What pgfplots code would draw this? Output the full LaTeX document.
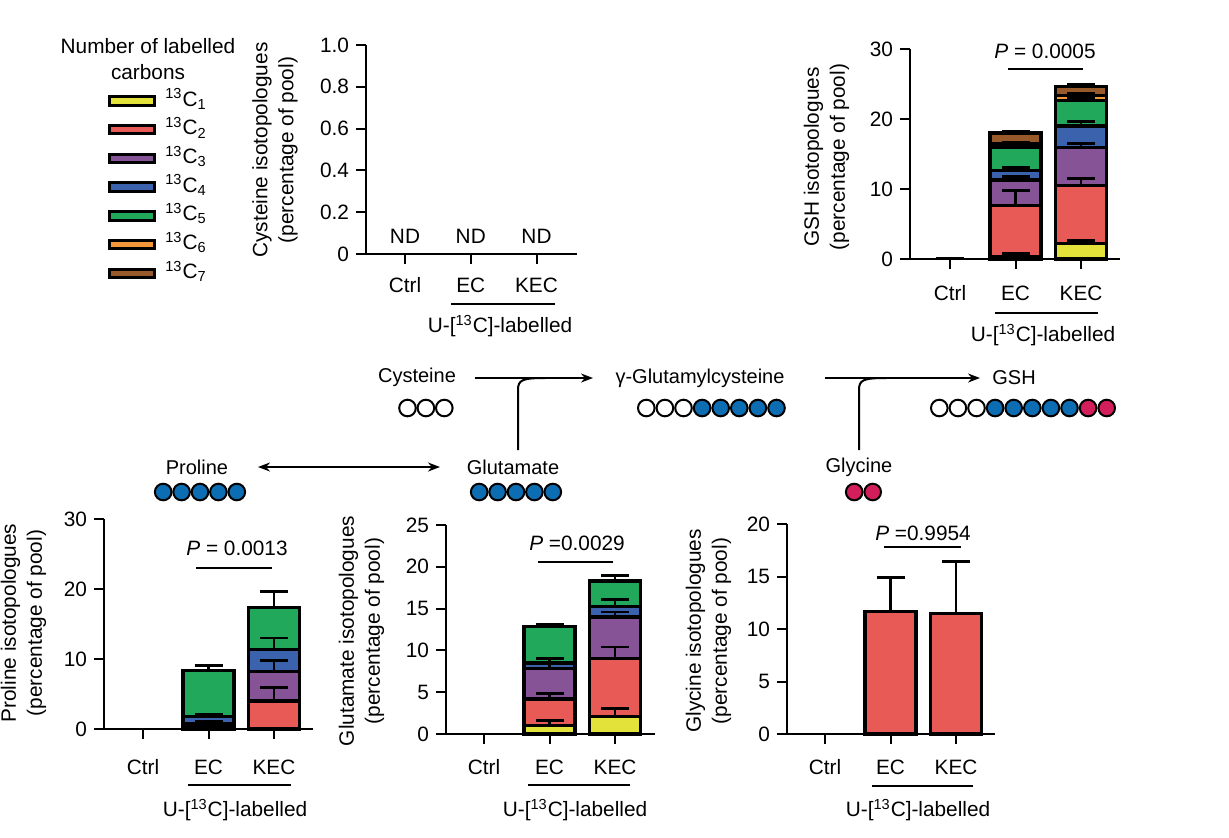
\documentclass[border=0pt]{standalone}
\usepackage{pgfplots}
\pgfplotsset{compat=1.18}
\usepackage{fontspec}
\setmainfont{Liberation Sans}
\usetikzlibrary{arrows.meta}

\definecolor{cone}{HTML}{E3E23B}
\definecolor{ctwo}{HTML}{E85A55}
\definecolor{cthree}{HTML}{875397}
\definecolor{cfour}{HTML}{3B62AD}
\definecolor{cfive}{HTML}{22A85B}
\definecolor{csix}{HTML}{F3973A}
\definecolor{cseven}{HTML}{98592B}
\definecolor{cblue}{HTML}{0D6DB3}
\definecolor{cpink}{HTML}{D21F5C}

\newcommand{\fs}{\fontsize{10.4}{13}\selectfont}
\newcommand{\iso}[1]{\textsuperscript{13}C\textsubscript{#1}}
\newcommand{\ulab}{U-[\textsuperscript{13}C]-labelled}

\pgfplotsset{
  panel/.style={
    scale only axis, anchor=south west, clip=false,
    axis x line*=bottom, axis y line*=left,
    axis line style={line width=1pt},
    every tick/.style={line width=1pt, black},
    tick align=outside, major tick length=5pt,
    xtick={0,1,2}, xticklabels={},
    ymin=0,
    /pgf/number format/assume math mode=true,
    tick label style={font=\fs},
  },
  seg/.style={ybar, bar shift=0pt, bar width=25.5pt, draw=black, line width=1.6pt, fill=#1},
  err/.style={draw=none, mark=none, forget plot,
    error bars/.cd, y dir=plus, y explicit,
    error bar style={draw=black, solid, line width=1.4pt},
    error mark options={draw=black, solid, line width=1.4pt, rotate=90, mark size=7pt}},
}

\begin{document}
\begin{tikzpicture}

% Cysteine (not detected) + legend
\begin{axis}[panel, at={(183pt,-127pt)}, width=105.5pt, height=104.5pt,
  xmin=-0.593, xmax=2.615, ymax=1,
  ytick={0,0.2,0.4,0.6,0.8,1}, yticklabels={0,0.2,0.4,0.6,0.8,1.0},
  legend style={at={(axis description cs:-1.225,0.7816)}, anchor=north west,
    draw=none, fill=none, inner sep=0pt, row sep=4.35pt, font=\fs,
    nodes={inner sep=0pt, text height=7.5pt, text depth=2.5pt}},
  legend cell align=left,
  legend image code/.code={\draw[#1, draw=black, line width=1.5pt] (0pt,-2.1pt) rectangle (22.5pt,2.1pt); \path (27.75pt,0pt);},
]
\addlegendimage{fill=cone}\addlegendentry{\iso{1}}
\addlegendimage{fill=ctwo}\addlegendentry{\iso{2}}
\addlegendimage{fill=cthree}\addlegendentry{\iso{3}}
\addlegendimage{fill=cfour}\addlegendentry{\iso{4}}
\addlegendimage{fill=cfive}\addlegendentry{\iso{5}}
\addlegendimage{fill=csix}\addlegendentry{\iso{6}}
\addlegendimage{fill=cseven}\addlegendentry{\iso{7}}
\draw[line width=1pt] (axis cs:-0.593,0) -- ++(-5pt,0);
\end{axis}

% GSH
\begin{axis}[panel, at={(455pt,-129.5pt)}, width=105pt, height=105pt,
  xmin=-0.61, xmax=2.595, ymax=30, ytick={0,10,20,30}]
\addplot[seg=cseven] coordinates {(1,18.0) (2,24.6)};
\addplot[seg=csix]   coordinates {(1,16.5) (2,23.4)};
\addplot[seg=cfive]  coordinates {(1,16.0) (2,22.6)};
\addplot[seg=cfour]  coordinates {(1,12.7) (2,19.0)};
\addplot[seg=cthree] coordinates {(1,11.3) (2,15.9)};
\addplot[seg=ctwo]   coordinates {(1,7.6) (2,10.5)};
\addplot[seg=cone]   coordinates {(1,0.3) (2,2.2)};
\addplot[err] coordinates {
  (0,0) +- (0,0.1)
  (1,0.3) +- (0,0.5) (1,7.6) +- (0,2.2) (1,11.3) +- (0,0.5) (1,12.7) +- (0,0.4)
  (1,16.0) +- (0,0.3) (1,16.5) +- (0,0.1) (1,18.0) +- (0,0.2)
  (2,2.2) +- (0,0.5) (2,10.5) +- (0,1.0) (2,15.9) +- (0,0.6) (2,19.0) +- (0,0.6)
  (2,22.6) +- (0,0.5) (2,23.4) +- (0,0.3) (2,24.6) +- (0,0.3)
};
\draw[line width=1pt] (axis cs:-0.61,0) -- ++(-5pt,0);
\end{axis}

% Proline
\begin{axis}[panel, at={(52pt,-364.5pt)}, width=104.5pt, height=105pt,
  xmin=-0.595, xmax=2.595, ymax=30, ytick={0,10,20,30}]
\addplot[seg=cfive]  coordinates {(1,8.4) (2,17.4)};
\addplot[seg=cfour]  coordinates {(1,1.8) (2,11.4)};
\addplot[seg=cthree] coordinates {(1,0.8) (2,8.2)};
\addplot[seg=ctwo]   coordinates {(1,0.3) (2,4.0)};
\addplot[err] coordinates {
  (1,0.3) +- (0,0.2) (1,0.8) +- (0,0.3) (1,1.8) +- (0,0.3) (1,8.4) +- (0,0.7)
  (2,4.0) +- (0,1.9) (2,8.2) +- (0,1.6) (2,11.4) +- (0,1.6) (2,17.4) +- (0,2.3)
};
\draw[line width=1pt] (axis cs:-0.595,0) -- ++(-5pt,0);
\end{axis}

% Glutamate
\begin{axis}[panel, at={(223pt,-367pt)}, width=104.5pt, height=104.5pt,
  xmin=-0.58, xmax=2.61, ymax=25, ytick={0,5,10,15,20,25}]
\addplot[seg=cfive]  coordinates {(1,12.9) (2,18.3)};
\addplot[seg=cfour]  coordinates {(1,8.5) (2,15.3)};
\addplot[seg=cthree] coordinates {(1,7.8) (2,14.0)};
\addplot[seg=ctwo]   coordinates {(1,4.2) (2,9.0)};
\addplot[seg=cone]   coordinates {(1,1.0) (2,2.1)};
\addplot[err] coordinates {
  (1,1.0) +- (0,0.6) (1,4.2) +- (0,0.6) (1,7.8) +- (0,0.8) (1,8.5) +- (0,0.5) (1,12.9) +- (0,0.2)
  (2,2.1) +- (0,1.0) (2,9.0) +- (0,1.4) (2,14.0) +- (0,0.6) (2,15.3) +- (0,0.8) (2,18.3) +- (0,0.7)
};
\draw[line width=1pt] (axis cs:-0.58,0) -- ++(-5pt,0);
\end{axis}

% Glycine
\begin{axis}[panel, at={(393.5pt,-367pt)}, width=104pt, height=105pt,
  xmin=-0.58, xmax=2.595, ymax=20, ytick={0,5,10,15,20}]
\addplot[seg=ctwo] coordinates {(1,11.7) (2,11.5)};
\addplot[err] coordinates {(1,11.7) +- (0,3.2) (2,11.5) +- (0,4.9)};
\draw[line width=1pt] (axis cs:-0.58,0) -- ++(-5pt,0);
\end{axis}

\begin{scope}[x=0.5pt, y=-0.5pt, font=\fs]
% legend title
\node[align=center] at (148,59) {Number of labelled\\carbons};
% y labels
\node[rotate=90, align=center] at (275,150) {Cysteine isotopologues\\(percentage of pool)};
\node[rotate=90, align=center] at (826.5,157) {GSH isotopologues\\(percentage of pool)};
\node[rotate=90, align=center] at (23.5,623) {Proline isotopologues\\(percentage of pool)};
\node[rotate=90, align=center] at (361.5,631) {Glutamate isotopologues\\(percentage of pool)};
\node[rotate=90, align=center] at (708.5,631) {Glycine isotopologues\\(percentage of pool)};
% category labels and brackets
\foreach \x/\y/\s in {405/285/65.75, 950/293/65.5, 143/767/65.5, 484/767/65.5, 825/767/65.5}{
  \node at (\x,\y) {Ctrl};
  \node at (\x+\s,\y) {EC};
  \node at (\x+2*\s,\y) {KEC};
}
\draw[line width=0.6pt] (451,304) -- (555,304);   \node at (500,326) {\ulab};
\draw[line width=0.6pt] (995,313) -- (1098,313);  \node at (1043,335) {\ulab};
\draw[line width=0.6pt] (188,785) -- (291,785);   \node at (235,810) {\ulab};
\draw[line width=0.6pt] (528,785) -- (630,785);   \node at (575,810) {\ulab};
\draw[line width=0.6pt] (872,786) -- (973,786);   \node at (918,810) {\ulab};
% ND
\node at (405,236) {ND}; \node at (470.75,236) {ND}; \node at (536.5,236) {ND};
% P values
\node at (1045,51) {\textit{P} = 0.0005}; \draw[line width=0.6pt] (1008,69) -- (1083,69);
\node at (237,548) {\textit{P} = 0.0013}; \draw[line width=0.6pt] (196,568) -- (272,568);
\node at (577,543) {\textit{P} =0.0029};  \draw[line width=0.6pt] (538,562) -- (613,562);
\node at (923,533) {\textit{P} =0.9954};  \draw[line width=0.6pt] (884,547) -- (961,547);

% pathway
\begin{scope}[font=\fontsize{10}{12}\selectfont]
\node at (417,377) {Cysteine};
\node at (700,378) {γ-Glutamylcysteine};
\node at (1014,378) {GSH};
\node at (197,467) {Proline};
\node at (513,467) {Glutamate};
\node at (859,467) {Glycine};
\end{scope}
\begin{scope}[line width=1pt, >={Stealth[length=6pt,width=4.5pt]}]
\draw[->] (475,378) -- (593,378);
\draw (518,450) -- (518,390) .. controls (518,380) and (522,378) .. (545,378);
\draw[->] (825,378) -- (980,378);
\draw (859,450) -- (859,390) .. controls (859,380) and (863,378) .. (886,378);
\draw[<->] (258,467) -- (440,467);
\end{scope}
\begin{scope}[line width=1pt, draw=black]
\foreach \i in {0,1,2} \draw[fill=white] (407.5+18.4*\i,408) circle (8.3);
\foreach \i in {0,1,2} \draw[fill=white] (646.3+18.6*\i,408) circle (8.3);
\foreach \i in {3,...,7} \draw[fill=cblue] (646.3+18.6*\i,408) circle (8.3);
\foreach \i in {0,1,2} \draw[fill=white] (939.3+18.6*\i,408) circle (8.3);
\foreach \i in {3,...,7} \draw[fill=cblue] (939.3+18.6*\i,408) circle (8.3);
\foreach \i in {8,9} \draw[fill=cpink] (939.3+18.6*\i,408) circle (8.3);
\foreach \i in {0,...,4} \draw[fill=cblue] (163.2+18.4*\i,492) circle (8.3);
\foreach \i in {0,...,4} \draw[fill=cblue] (479.2+18.4*\i,492) circle (8.3);
\foreach \i in {0,1} \draw[fill=cpink] (854.2+18.5*\i,492) circle (8.3);
\end{scope}
\end{scope}

\pgfresetboundingbox
\path[use as bounding box] (0pt,0pt) rectangle (614.5pt,-418.5pt);
\end{tikzpicture}
\end{document}
